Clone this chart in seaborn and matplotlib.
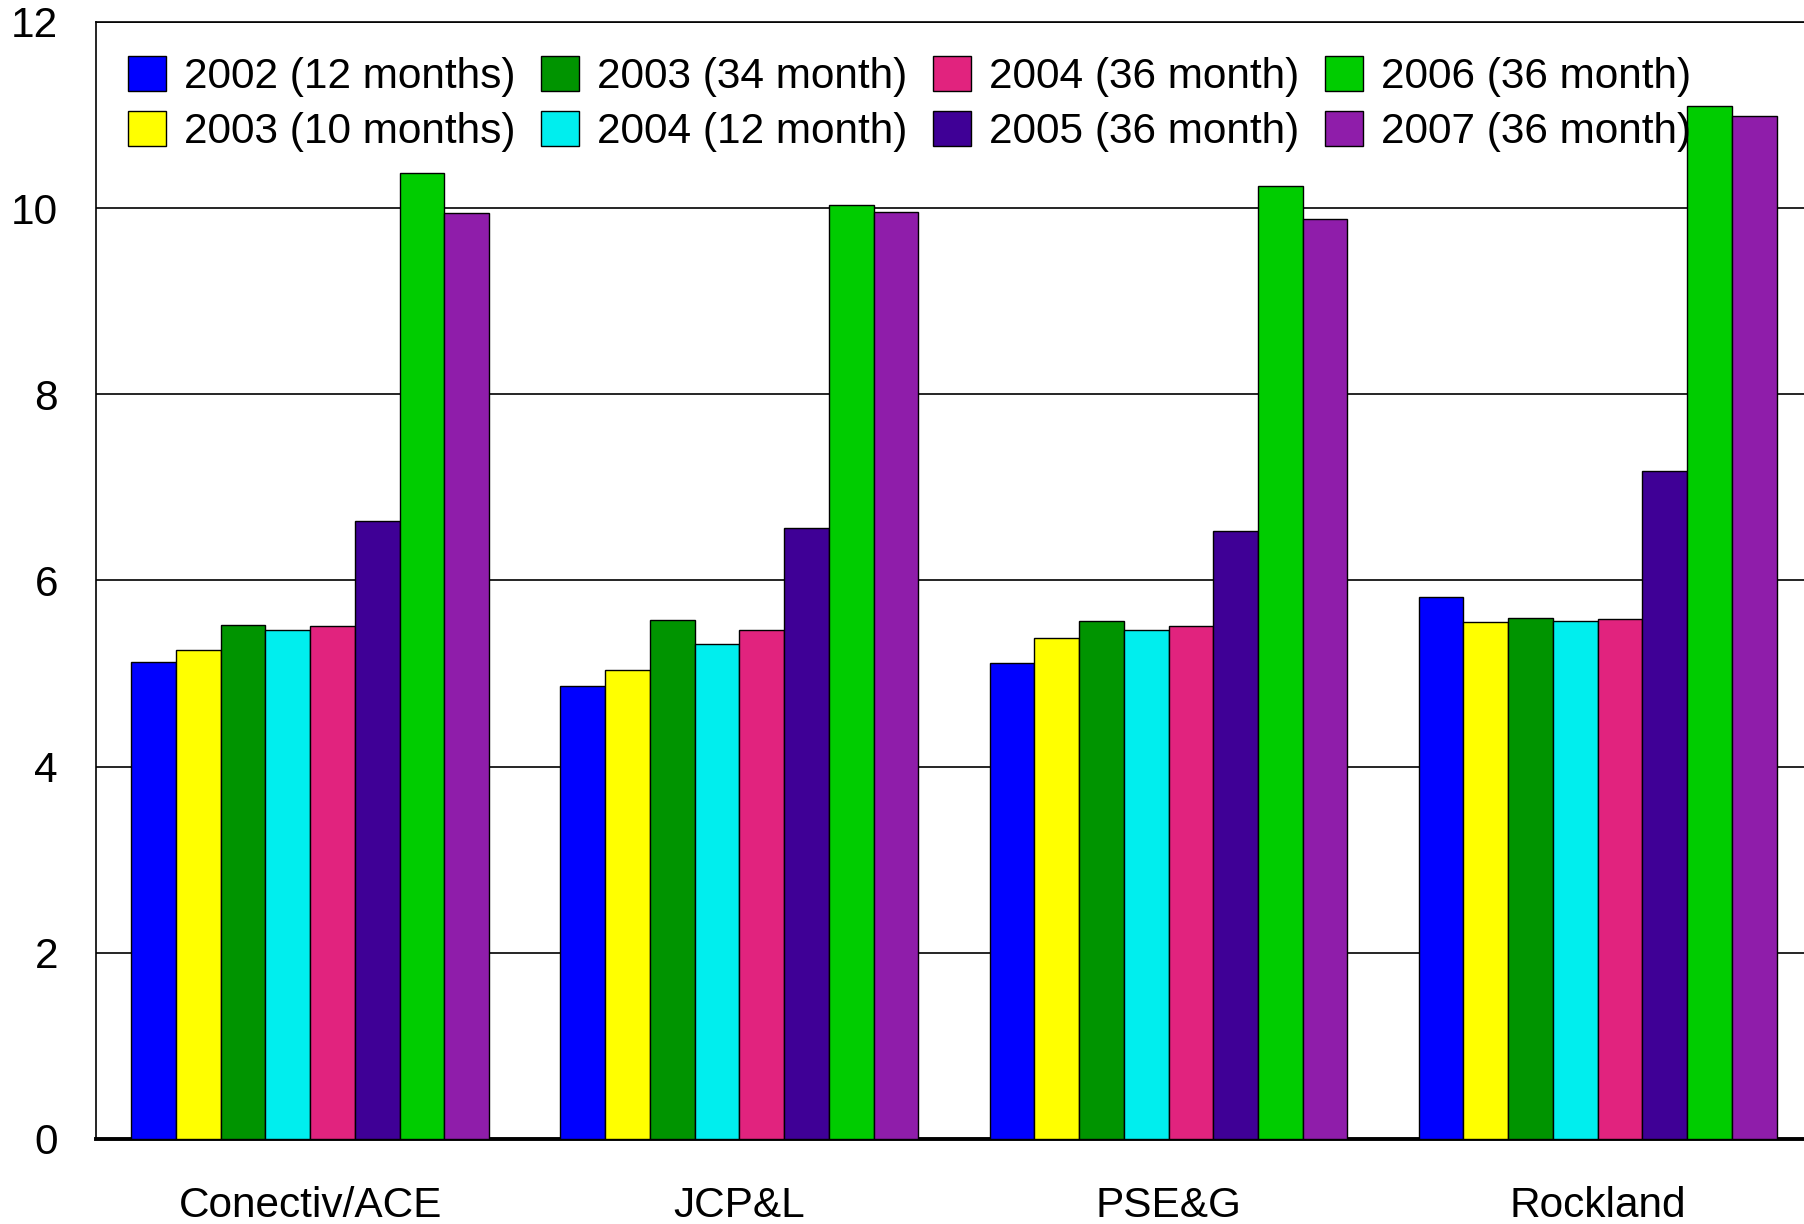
import matplotlib
matplotlib.use("Agg")
import matplotlib.pyplot as plt
import seaborn as sns
import pandas as pd

companies = ["Conectiv/ACE", "JCP&L", "PSE&G", "Rockland"]
series = ["2002 (12 months)", "2003 (10 months)", "2003 (34 month)", "2004 (12 month)",
          "2004 (36 month)", "2005 (36 month)", "2006 (36 month)", "2007 (36 month)"]
colors = ["#0000ff", "#ffff00", "#009400", "#00eeee", "#e1237e", "#3f0096", "#00cc00", "#8f1daa"]

v2002_12 = [5.12, 4.87, 5.11, 5.82]
v2003_10 = [5.25, 5.04, 5.38, 5.55]
v2003_34 = [5.52, 5.58, 5.56, 5.60]
v2004_12 = [5.47, 5.32, 5.47, 5.56]
v2004_36 = [5.51, 5.47, 5.51, 5.59]
v2005_36 = [6.64, 6.56, 6.53, 7.18]
v2006_36 = [10.38, 10.03, 10.24, 11.10]
v2007_36 = [9.95, 9.96, 9.88, 10.99]

values = [v2002_12, v2003_10, v2003_34, v2004_12, v2004_36, v2005_36, v2006_36, v2007_36]
yticks = [0, 2, 4, 6, 8, 10, 12]

rows = []
for s, vals in zip(series, values):
    for c, v in zip(companies, vals):
        rows.append({"company": c, "series": s, "value": v})
df = pd.DataFrame(rows)

sns.set_theme(style="white")
plt.rcParams["font.family"] = ["Liberation Sans", "DejaVu Sans"]
plt.rcParams["text.color"] = "black"

W, H = 1804, 1224
fig = plt.figure(figsize=(W / 100, H / 100), dpi=100)
left, right = 95.5, 1812.3
top, bottom = 21.9, 1139
ax = fig.add_axes([left / W, 1 - bottom / H, (right - left) / W, (bottom - top) / H])

sns.barplot(data=df, x="company", y="value", hue="series", order=companies,
            hue_order=series, palette=colors, width=0.834, edgecolor="black",
            linewidth=1.0, saturation=1, ax=ax, errorbar=None, zorder=3)

FS = 30.5
ax.set_xlim(-0.5, 3.5)
ax.set_ylim(0, 12)
ax.set_yticks(yticks)
ax.set_yticklabels([str(t) for t in yticks])
ax.set_xlabel("")
ax.set_ylabel("")
ax.yaxis.grid(True, color="black", linewidth=1.2, zorder=0)
ax.set_axisbelow(True)
ax.tick_params(axis="both", length=0, labelsize=FS, colors="black", labelcolor="black")
ax.tick_params(axis="y", pad=27)
ax.tick_params(axis="x", pad=34)
for side in ["left", "top"]:
    ax.spines[side].set_color("black")
    ax.spines[side].set_linewidth(1.2)
ax.spines["bottom"].set_color("black")
ax.spines["bottom"].set_linewidth(2.8)
ax.spines["right"].set_visible(False)

ax.legend(loc="upper left", bbox_to_anchor=(127.5 / W, 1 - 56 / H), bbox_transform=fig.transFigure,
          ncol=4, frameon=False, fontsize=FS, handlelength=0.9, handleheight=0.9,
          handletextpad=0.43, columnspacing=0.6, labelspacing=0.33, borderpad=0, borderaxespad=0,
          labelcolor="black")

fig.savefig("out.png", dpi=100)
